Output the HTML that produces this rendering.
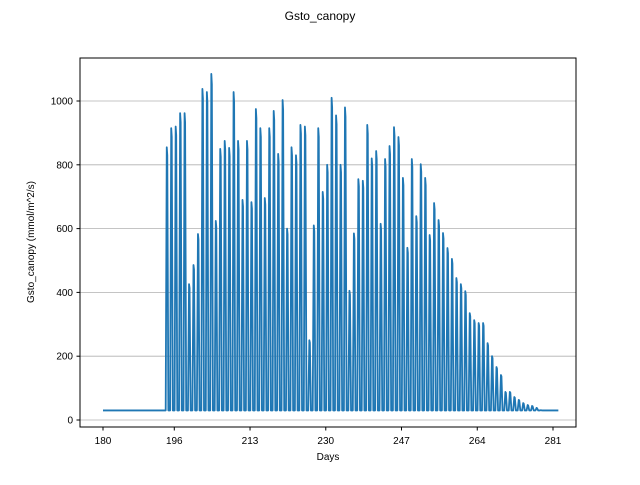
<!DOCTYPE html>
<html><head><meta charset="utf-8"><style>
body{margin:0;background:#fff;font-family:"Liberation Sans","DejaVu Sans",sans-serif}
</style></head><body>
<svg id="chart" width="640" height="480" xmlns="http://www.w3.org/2000/svg">
<rect width="640" height="480" fill="#fff"/>
<text x="320" y="20" text-anchor="middle" font-size="12">Gsto_canopy</text>
<g id="grid"></g>
<g id="series"></g>
<rect x="80" y="58" width="496" height="369" fill="none" stroke="#000" stroke-width="1"/>
<g id="axes" font-size="10"></g>
<text x="328" y="460" text-anchor="middle" font-size="10">Days</text>
<text transform="translate(34,242) rotate(-90)" text-anchor="middle" font-size="10">Gsto_canopy (mmol/m^2/s)</text>
</svg>
<script>
const xTicks=[180,196,213,230,247,264,281];
const yTicks=[0,200,400,600,800,1000];
const baseline=30;
const startDay=180, endDay=282.2, firstPeakDay=194.37;
const dailyPeaks=[855,915,920,962,962,426,486,583,1038,1028,1085,624,850,875,853,1028,875,690,875,683,975,915,696,915,969,834,1003,600,855,830,925,920,250,610,915,715,800,1010,955,800,980,405,585,755,750,925,820,843,615,818,859,918,887,759,540,818,639,802,759,580,680,627,586,539,505,445,426,404,335,313,304,304,241,200,166,141,88,88,72,63,53,47,44,38,31];
const NS="http://www.w3.org/2000/svg";
const sx=d=>103+(d-180)*(450/101);
const sy=v=>420-v*0.319;
const grid=document.getElementById('grid'),axes=document.getElementById('axes'),series=document.getElementById('series');
yTicks.forEach(t=>{
 const y=sy(t);
 const g=document.createElementNS(NS,'line');
 g.setAttribute('x1',80);g.setAttribute('x2',576);g.setAttribute('y1',y);g.setAttribute('y2',y);
 g.setAttribute('stroke','#b0b0b0');g.setAttribute('stroke-width','0.8');
 
 
 grid.appendChild(g);
 const tk=document.createElementNS(NS,'line');
 tk.setAttribute('x1',76.5);tk.setAttribute('x2',80);tk.setAttribute('y1',y);tk.setAttribute('y2',y);tk.setAttribute('stroke','#000');
 
 
 axes.appendChild(tk);
 const tx=document.createElementNS(NS,'text');
 tx.setAttribute('x',73);tx.setAttribute('y',y+3.5);tx.setAttribute('text-anchor','end');tx.textContent=t;
 
 
 axes.appendChild(tx);
});
xTicks.forEach(t=>{
 const x=sx(t);
 const tk=document.createElementNS(NS,'line');
 tk.setAttribute('x1',x);tk.setAttribute('x2',x);tk.setAttribute('y1',427);tk.setAttribute('y2',430.5);tk.setAttribute('stroke','#000');
 
 
 axes.appendChild(tk);
 const tx=document.createElementNS(NS,'text');
 tx.setAttribute('x',x);tx.setAttribute('y',444);tx.setAttribute('text-anchor','middle');tx.textContent=t;
 
 
 axes.appendChild(tx);
});
let pts=[[startDay,baseline]];
dailyPeaks.forEach((p,k)=>{
 const d=firstPeakDay+k;
 pts.push([d-0.3,baseline],[d-0.06,p],[d+0.06,p*0.97],[d+0.3,baseline]);
});
pts.push([endDay,baseline]);
const path=document.createElementNS(NS,'polyline');
path.setAttribute('points',pts.map(p=>sx(p[0]).toFixed(2)+','+sy(p[1]).toFixed(2)).join(' '));
path.setAttribute('fill','none');path.setAttribute('stroke','#1f77b4');path.setAttribute('stroke-width','1.8');path.setAttribute('stroke-linejoin','round');


series.appendChild(path);
</script>
</body></html>
